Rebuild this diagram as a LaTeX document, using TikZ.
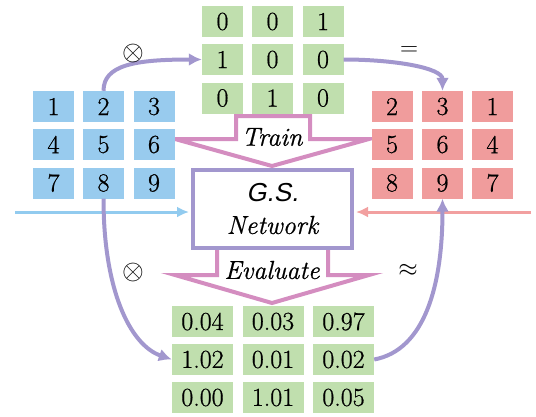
\RequirePackage{fix-cm}
\documentclass[tikz,border=0pt]{standalone}
\usepackage{fontspec}
\usetikzlibrary{arrows.meta}
\newfontfamily\gsfont{Liberation Sans}[FakeSlant=0.2]
\newfontfamily\numfont{Latin Modern Roman}[FakeBold=0.7]
\definecolor{cblue}{HTML}{98CBEE}
\definecolor{cgreen}{HTML}{C0DFAE}
\definecolor{cred}{HTML}{F09C9C}
\definecolor{cpink}{HTML}{D48DC0}
\definecolor{cpurple}{HTML}{A297CE}
\definecolor{lblue}{HTML}{92CBEF}
\definecolor{lred}{HTML}{F2A0A0}
\tikzset{
  cell/.style={inner sep=0pt, minimum width=41pt, minimum height=31pt, font=\numfont\fontsize{26}{30}\selectfont},
  bcell/.style={cell, fill=cblue},
  gcell/.style={cell, fill=cgreen},
  rcell/.style={cell, fill=cred},
  ecell/.style={cell, fill=cgreen, minimum width=61pt},
  blockarrow/.style={draw=cpink, line width=4pt, fill=white, line join=miter},
  curve/.style={draw=cpurple, line width=4pt, -{Latex[length=13pt,width=13pt]}},
  feed/.style={line width=3pt, -{Latex[length=12pt,width=11pt]}, shorten >=2pt},
  lab/.style={font=\fontsize{28}{32}\selectfont, inner sep=0pt},
  slab/.style={font=\fontsize{25}{30}\selectfont, inner sep=0pt},
  arrtext/.style={font=\numfont\fontsize{26}{30}\selectfont\itshape, inner sep=0pt}
}
\begin{document}
\begin{tikzpicture}[x=1pt,y=-1pt]
\useasboundingbox (0,0) rectangle (536,416);
% block arrows
\draw[blockarrow] (236,116) -- (310,116) -- (310,139) -- (369,139) -- (272,166) -- (175,139) -- (236,139) -- cycle;
\draw[blockarrow] (217,240) -- (217,275) -- (175,275) -- (272,303) -- (369,275) -- (328,275) -- (328,240) -- cycle;
\node[arrtext] (train) at (272,137) {Train};
% network box
\node[draw=cpurple, line width=4pt, fill=white, minimum width=159pt, minimum height=78pt] (net) at (272.5,209) {};
\node[inner sep=0pt, font=\gsfont\fontsize{26}{30}\selectfont] (gs) at (272.5,193) {G.S.};
\node[arrtext] (netw) at (272.5,225) {Network};
\node[arrtext] (eval) at (272,270) {Evaluate};
% blue grid
\node[bcell] (b1) at (53.5,106.5) {1};
\node[bcell] (b2) at (103.5,106.5) {2};
\node[bcell] (b3) at (154,106.5) {3};
\node[bcell] (b4) at (53.5,144.5) {4};
\node[bcell] (b5) at (103.5,144.5) {5};
\node[bcell] (b6) at (154,144.5) {6};
\node[bcell] (b7) at (53.5,183) {7};
\node[bcell] (b8) at (103.5,183) {8};
\node[bcell] (b9) at (154,183) {9};
% top green grid
\node[gcell] (g1) at (222.5,21.5) {0};
\node[gcell] (g2) at (272.5,21.5) {0};
\node[gcell] (g3) at (323,21.5) {1};
\node[gcell] (g4) at (222.5,59.5) {1};
\node[gcell] (g5) at (272.5,59.5) {0};
\node[gcell] (g6) at (323,59.5) {0};
\node[gcell] (g7) at (222.5,98) {0};
\node[gcell] (g8) at (272.5,98) {1};
\node[gcell] (g9) at (323,98) {0};
% red grid
\node[rcell] (r1) at (392,106.5) {2};
\node[rcell] (r2) at (442.5,106.5) {3};
\node[rcell] (r3) at (492.5,106.5) {1};
\node[rcell] (r4) at (392,144.5) {5};
\node[rcell] (r5) at (442.5,144.5) {6};
\node[rcell] (r6) at (492.5,144.5) {4};
\node[rcell] (r7) at (392,183) {8};
\node[rcell] (r8) at (442.5,183) {9};
\node[rcell] (r9) at (492.5,183) {7};
% bottom green grid
\node[ecell] (e1) at (202.5,321.5) {0.04};
\node[ecell] (e2) at (273,321.5) {0.03};
\node[ecell] (e3) at (343.5,321.5) {0.97};
\node[ecell] (e4) at (202.5,359.5) {1.02};
\node[ecell] (e5) at (273,359.5) {0.01};
\node[ecell] (e6) at (343.5,359.5) {0.02};
\node[ecell] (e7) at (202.5,397.5) {0.00};
\node[ecell] (e8) at (273,397.5) {1.01};
\node[ecell] (e9) at (343.5,397.5) {0.05};
% feed arrows
\coordinate (lstart) at (15,212);
\coordinate (rstart) at (531,212);
\draw[feed, lblue] (lstart) -- (lstart -| net.west);
\draw[feed, lred] (rstart) -- (rstart -| net.east);
% purple curves
\draw[curve] (b2.north) .. controls (103.5,65) and (135,59.5) .. (g4.west);
\draw[curve] (g6.east) .. controls (395,59.5) and (442.5,68) .. (r2.north);
\draw[curve] (b8.south) .. controls (103.5,290) and (130,345) .. (e4.west);
\draw[curve] (e6.east) .. controls (425,350) and (442.5,285) .. (r8.south);
% labels
\node[lab] (m1) at (133,53) {$\otimes$};
\node[slab] (eq) at (409,51) {$=$};
\node[lab] (m2) at (133,272) {$\otimes$};
\node[slab] (ap) at (408,270) {$\approx$};
\end{tikzpicture}
\end{document}
